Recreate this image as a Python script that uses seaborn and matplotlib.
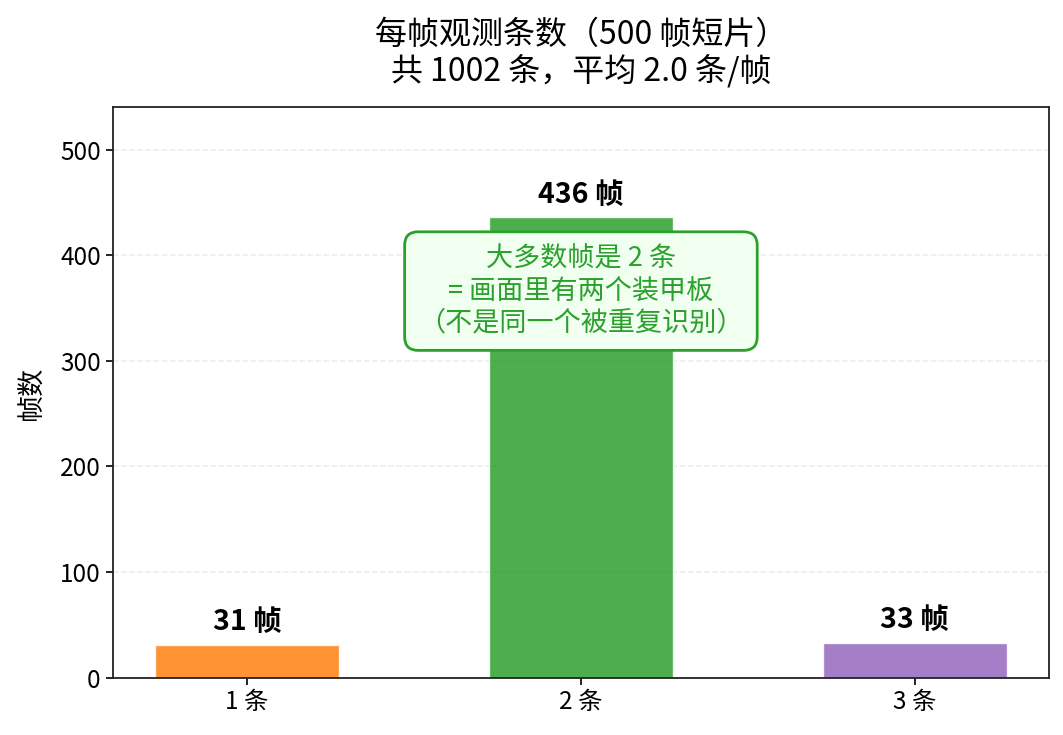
import numpy as np
import pandas as pd
import seaborn as sns
import matplotlib
matplotlib.use("Agg")
import matplotlib.pyplot as plt

sns.set_theme(style="white")
plt.rcParams['font.family'] = ['Noto Sans CJK SC', 'DejaVu Sans']
plt.rcParams['axes.unicode_minus'] = False
plt.rcParams['text.color'] = 'black'
plt.rcParams['axes.labelcolor'] = 'black'
plt.rcParams['xtick.color'] = 'black'
plt.rcParams['ytick.color'] = 'black'

categories = ["1 条", "2 条", "3 条"]
frame_counts = [31, 436, 33]
bar_colors = ["#ff7f0e", "#2ca02c", "#9467bd"]
total_obs = 1002
n_frames = 500

df = pd.DataFrame({"条数": categories, "帧数": frame_counts})

fig, ax = plt.subplots(figsize=(10.63, 7.35), dpi=100)
sns.barplot(data=df, x="条数", y="帧数", hue="条数", palette=bar_colors,
            width=0.55, alpha=0.85, legend=False, ax=ax, saturation=1)

for i, v in enumerate(frame_counts):
    ax.text(i, v + 8, f"{v} 帧", ha="center", va="bottom",
            fontsize=20.5, fontweight="bold")

ax.text(1, 366, "大多数帧是 2 条\n= 画面里有两个装甲板\n（不是同一个被重复识别）",
        ha="center", va="center", fontsize=19.5, color="#2ca02c",
        linespacing=1.25,
        bbox=dict(boxstyle="round,pad=0.5", facecolor="#f0fff0",
                  edgecolor="#2ca02c", linewidth=2))

ax.set_ylim(0, 540)
ax.set_xlim(-0.4025, 2.4025)
ax.set_xlabel("")
ax.set_ylabel("帧数", fontsize=19.5, labelpad=10)
ax.tick_params(axis="both", labelsize=17.5, length=5, width=1.2, bottom=True, left=True)
ax.yaxis.grid(True, linestyle="--", alpha=0.4, linewidth=1.1)
ax.set_axisbelow(True)
for s in ax.spines.values():
    s.set_color("#222222")
    s.set_linewidth(1.3)

ax.set_title(f"每帧观测条数（{n_frames} 帧短片）\n共 {total_obs} 条，平均 {total_obs / n_frames:.1f} 条/帧",
             fontsize=23, pad=19, linespacing=1.15)

plt.subplots_adjust(left=0.106, right=0.987, top=0.854, bottom=0.078)
plt.savefig("out.png", dpi=100)
